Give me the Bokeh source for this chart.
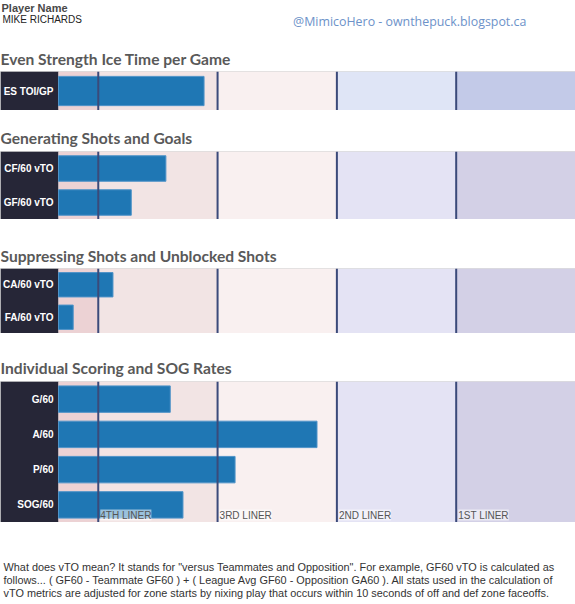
from bokeh.plotting import figure
from bokeh.layouts import column
from bokeh.models import Range1d, FactorRange, BoxAnnotation, Span, Label
from bokeh.core.properties import value
from bokeh.embed import file_html
from bokeh.resources import INLINE

# ---------------- data ----------------
player_heading = "Player Name"
player_name = "MIKE RICHARDS"
credit = "@MimicoHero - ownthepuck.blogspot.ca"

section_titles = [
    "Even Strength Ice Time per Game",
    "Generating Shots and Goals",
    "Suppressing Shots and Unblocked Shots",
    "Individual Scoring and SOG Rates",
]
toi_cats = ["ES TOI/GP"]
toi_vals = [3.66]
gen_cats = ["CF/60 vTO", "GF/60 vTO"]
gen_vals = [2.70, 1.83]
sup_cats = ["CA/60 vTO", "FA/60 vTO"]
sup_vals = [1.37, 0.37]
ind_cats = ["G/60", "A/60", "P/60", "SOG/60"]
ind_vals = [2.81, 6.50, 4.44, 3.13]

tier_edges = [0, 1, 4, 7, 10, 13]          # band boundaries on the value scale
tier_lines = [1, 4, 7, 10]
tier_labels = ["4TH LINER", "3RD LINER", "2ND LINER", "1ST LINER"]

footnote = [
    'What does vTO mean? It stands for "versus Teammates and Opposition". For example, GF60 vTO is calculated as',
    'follows... ( GF60 - Teammate GF60 ) + ( League Avg GF60 - Opposition GA60 ). All stats used in the calculation of',
    'vTO metrics are adjusted for zone starts by nixing play that occurs within 10 seconds of off and def zone faceoffs.',
]

# ---------------- styling ----------------
W = 575
LEFT = 58                      # width of the dark label block, px
BAR = "#1f77b4"
DARK = "#262637"
TIER_LINE = "#3b4a7a"
bands_toi = ["#ecd2d4", "#f2e4e4", "#f9f0f0", "#dfe5f6", "#c3cae8"]
bands_other = ["#ecd2d4", "#f2e4e4", "#f9f0f0", "#e4e3f4", "#d3d0e6"]

# pixel boundaries of the stacked blocks (top to bottom)
bounds = [0, 71, 110, 151, 219, 268, 333, 381, 522, 600]

x_hi = tier_edges[-1]
x_lo = -LEFT * (x_hi - tier_edges[0]) / (W - LEFT)


def text_fig(i0, items):
    top = bounds[i0]
    h = bounds[i0 + 1] - top
    p = figure(width=W, height=h, toolbar_location=None, output_backend="svg",
               x_range=Range1d(0, W), y_range=Range1d(h, 0),
               x_axis_location=None, y_axis_location=None,
               min_border=0, outline_line_color=None,
               background_fill_color="white", border_fill_color="white")
    p.grid.visible = False
    for (txt, xr, yr, size, font, style, color) in items:
        p.add_layout(Label(x=xr, y=yr - top, text=txt,
                           text_font=font, text_font_size=f"{size}px",
                           text_font_style=style, text_color=color,
                           text_baseline="middle", text_align="left"))
    return p


def panel_fig(i0, cats, vals, bands, with_labels=False):
    h = bounds[i0 + 1] - bounds[i0]
    p = figure(width=W, height=h, toolbar_location=None, output_backend="svg",
               y_range=FactorRange(*list(reversed(cats))),
               x_range=Range1d(x_lo, x_hi),
               x_axis_location=None, y_axis_location=None,
               min_border=0,
               border_fill_color="white", background_fill_color="white",
               outline_line_color="#dcdcdc", outline_line_width=1.5)
    p.grid.visible = False
    # dark label block
    p.add_layout(BoxAnnotation(left=x_lo, right=tier_edges[0], fill_color=DARK,
                               fill_alpha=1.0, line_color=None, level="underlay"))
    for k in range(len(bands)):
        p.add_layout(BoxAnnotation(left=tier_edges[k], right=tier_edges[k + 1],
                                   fill_color=bands[k], fill_alpha=1.0,
                                   line_color=None, level="underlay"))
    p.hbar(y=cats, left=0, right=vals, height=0.75,
           fill_color=BAR, line_color="#4f93c8", line_width=1)
    p.text(x=[tier_edges[0]] * len(cats), y=cats, text=cats,
           x_offset=-5, text_align="right", text_baseline="middle",
           text_color="white", text_font=value("Liberation Sans"),
           text_font_style="bold", text_font_size=value("10px"))
    for t in tier_lines:
        p.add_layout(Span(location=t, dimension="height",
                          line_color=TIER_LINE, line_width=2))
    if with_labels:
        for t, lab in zip(tier_lines, tier_labels):
            p.add_layout(Label(x=t, y=0, x_offset=2, y_offset=2, text=lab,
                               text_font="Liberation Sans",
                               text_font_size="10px",
                               text_color="#555555", text_baseline="bottom",
                               background_fill_color="white",
                               background_fill_alpha=0.55))
    return p


TITLE_FONT = "Lato"
title_items = lambda t, y: (t, 0, y, 15.6, TITLE_FONT, "bold", "#595959")

blocks = [
    text_fig(0, [
        (player_heading, 1, 7, 11, "Liberation Sans", "bold", "#484848"),
        (player_name, 2, 19, 10, "Liberation Sans", "normal", "#222222"),
        (credit, 292.6, 21, 12.4, "Open Sans", "normal", "#6d92c9"),
        title_items(section_titles[0], 58),
    ]),
    panel_fig(1, toi_cats, toi_vals, bands_toi),
    text_fig(2, [title_items(section_titles[1], 137)]),
    panel_fig(3, gen_cats, gen_vals, bands_other),
    text_fig(4, [title_items(section_titles[2], 255)]),
    panel_fig(5, sup_cats, sup_vals, bands_other),
    text_fig(6, [title_items(section_titles[3], 367.3)]),
    panel_fig(7, ind_cats, ind_vals, bands_other, with_labels=True),
    text_fig(8, [(line, 3, 566.7 + 12.8 * k, 10.9, "Liberation Sans", "normal", "#333333")
                 for k, line in enumerate(footnote)]),
]

layout = column(*blocks, spacing=0)
open("out.html", "w").write(file_html(layout, INLINE))
